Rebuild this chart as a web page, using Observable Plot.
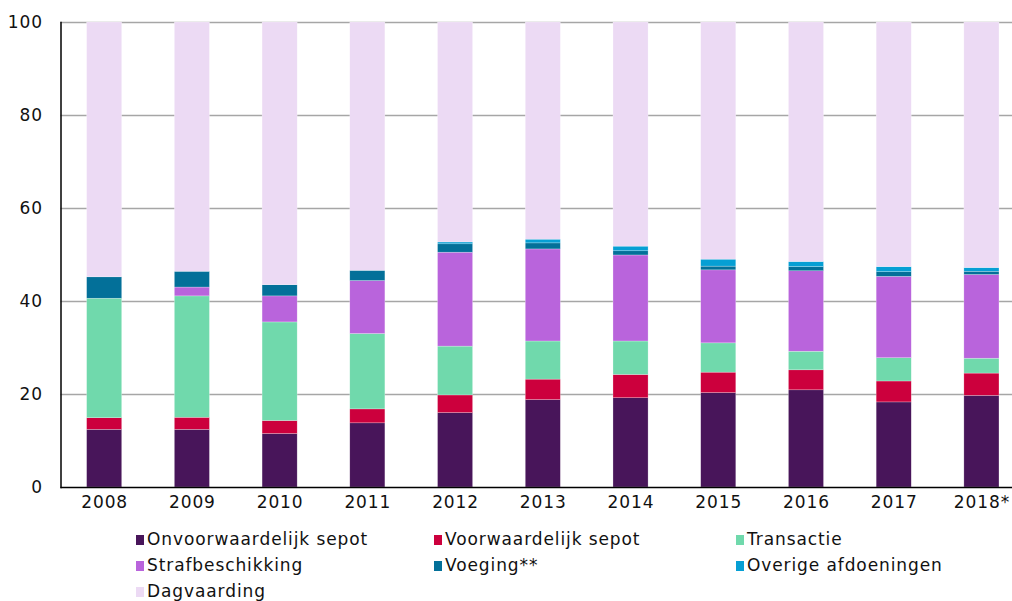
<!DOCTYPE html>
<html>
<head>
<meta charset="utf-8">
<script src="https://cdn.jsdelivr.net/npm/d3@7"></script>
<script src="https://cdn.jsdelivr.net/npm/@observablehq/plot@0.6"></script>
<style>
  html, body { margin: 0; padding: 0; background: #fff; overflow: hidden; }
  body { width: 1012px; height: 601px; position: relative; font-family: Verdana, "DejaVu Sans", sans-serif; }
  #chart { position: absolute; left: 0; top: 0; }
  .legend { position: absolute; left: 0; top: 527px; width: 1012px; height: 74px; }
  .item { position: absolute; font-size: 17px; letter-spacing: 0.9px; color: #111; white-space: nowrap; line-height: 22px; }
  .sw { display: inline-block; width: 8px; height: 10px; margin-right: 3px; vertical-align: 0px; }
</style>
</head>
<body>
<div id="chart"></div>
<div class="legend" id="legend"></div>
<script>
const years = ["2008","2009","2010","2011","2012","2013","2014","2015","2016","2017","2018*"];
const seriesNames = ["Onvoorwaardelijk sepot","Voorwaardelijk sepot","Transactie","Strafbeschikking","Voeging**","Overige afdoeningen","Dagvaarding"];
const seriesColors = ["#48155a","#cc003d","#70d9ac","#b964dc","#037099","#069fd4","#ecdaf4"];

const onvoorwaardelijk = [12.4, 12.4, 11.5, 13.8, 16.0, 18.8, 19.2, 20.3, 20.9, 18.3, 19.7];
const voorwaardelijk   = [ 2.5,  2.6,  2.8,  3.0,  3.8,  4.4,  5.0,  4.4,  4.3,  4.5,  4.8];
const transactie       = [25.7, 26.1, 21.2, 16.2, 10.5,  8.2,  7.2,  6.3,  4.0,  5.0,  3.2];
const strafbeschikking = [ 0.0,  1.9,  5.6, 11.4, 20.2, 19.8, 18.5, 15.7, 17.3, 17.5, 18.0];
const voeging          = [ 4.6,  3.4,  2.4,  2.2,  1.8,  1.3,  0.9,  0.8,  0.9,  1.0,  0.7];
const overige          = [ 0.0,  0.0,  0.0,  0.0,  0.4,  0.8,  1.0,  1.5,  1.1,  1.1,  0.8];
const dagvaarding      = [54.8, 53.6, 56.5, 53.4, 47.3, 46.7, 48.2, 51.0, 51.5, 52.6, 52.8];

const seriesValues = [onvoorwaardelijk, voorwaardelijk, transactie, strafbeschikking, voeging, overige, dagvaarding];
const yTicks = [0, 20, 40, 60, 80, 100];

const data = [];
seriesNames.forEach((name, i) => {
  years.forEach((yr, j) => data.push({year: yr, series: name, value: seriesValues[i][j]}));
});

const font = 'Verdana, "DejaVu Sans", sans-serif';

const plot = Plot.plot({
  width: 1012,
  height: 520,
  marginLeft: 60.5,
  marginRight: 0,
  marginTop: 22,
  marginBottom: 33,
  style: { fontFamily: font, fontSize: "17px", letterSpacing: "0.9px", color: "#111", background: "white", overflow: "visible" },
  x: { domain: years, range: [60.3, 1025.3], paddingInner: 0.6, paddingOuter: 0.3, round: false, label: null },
  y: { domain: [0, 100], ticks: yTicks, label: null },
  color: { domain: seriesNames, range: seriesColors },
  marks: [
    Plot.ruleY(yTicks.filter(d => d > 0), { stroke: "#a6a6a6", strokeWidth: 1.5 }),
    Plot.barY(data, Plot.stackY({ order: seriesNames }, {
      x: "year", y: "value", fill: "series",
      stroke: "#ffffff", strokeWidth: 0.5, strokeOpacity: 0.5
    })),
    Plot.axisY({ ticks: yTicks, tickSize: 0, tickPadding: 18, fontSize: 17, label: null }),
    Plot.axisX({ tickSize: 0, tickPadding: 8, fontSize: 17, label: null }),
    Plot.frame({ anchor: "left", stroke: "#000", strokeWidth: 1.5 }),
    Plot.ruleY([0], { stroke: "#000", strokeWidth: 1.5 })
  ]
});
document.getElementById("chart").appendChild(plot);

const legendPos = [
  [136, 528], [434, 528], [736, 528],
  [136, 554], [434, 554], [736, 554],
  [136, 580]
];
const legend = document.getElementById("legend");
seriesNames.forEach((name, i) => {
  const d = document.createElement("div");
  d.className = "item";
  d.style.left = legendPos[i][0] + "px";
  d.style.top = (legendPos[i][1] - 527) + "px";
  const sw = document.createElement("span");
  sw.className = "sw";
  sw.style.background = seriesColors[i];
  d.appendChild(sw);
  d.appendChild(document.createTextNode(name));
  legend.appendChild(d);
});
</script>
</body>
</html>
